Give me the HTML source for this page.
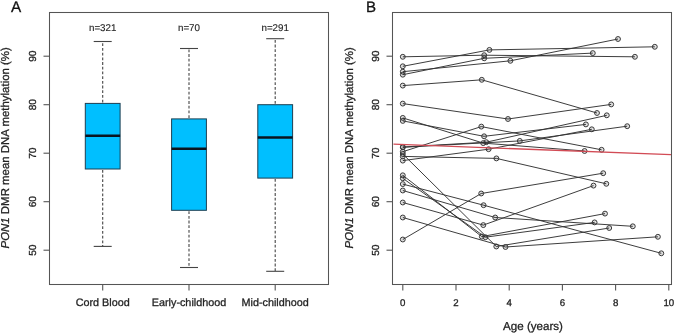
<!DOCTYPE html>
<html><head><meta charset="utf-8"><style>html,body{margin:0;padding:0;background:#fff;}body{width:675px;height:333px;overflow:hidden;position:relative;font-family:"Liberation Sans", sans-serif;}</style></head><body>
<svg width="675" height="333" viewBox="0 0 675 333" style="position:absolute;left:0;top:0;will-change:transform" font-family='"Liberation Sans", sans-serif'>
<style>text{stroke:#222;stroke-width:0.28px;paint-order:stroke;text-rendering:geometricPrecision;}</style>
<rect x="0" y="0" width="675" height="333" fill="#fff"/>
<text x="11.1" y="11.8" font-size="15.3" fill="#111">A</text>
<text x="366.0" y="11.6" font-size="15.1" fill="#111">B</text>
<rect x="49.5" y="12.5" width="279" height="272" fill="none" stroke="#555" stroke-width="1.05"/>
<line x1="43.5" y1="250.20" x2="49.5" y2="250.20" stroke="#555" stroke-width="1.1"/>
<text transform="translate(36.2 250.20) rotate(-90)" text-anchor="middle" font-size="10.2" fill="#222">50</text>
<line x1="43.5" y1="201.70" x2="49.5" y2="201.70" stroke="#555" stroke-width="1.1"/>
<text transform="translate(36.2 201.70) rotate(-90)" text-anchor="middle" font-size="10.2" fill="#222">60</text>
<line x1="43.5" y1="153.20" x2="49.5" y2="153.20" stroke="#555" stroke-width="1.1"/>
<text transform="translate(36.2 153.20) rotate(-90)" text-anchor="middle" font-size="10.2" fill="#222">70</text>
<line x1="43.5" y1="104.70" x2="49.5" y2="104.70" stroke="#555" stroke-width="1.1"/>
<text transform="translate(36.2 104.70) rotate(-90)" text-anchor="middle" font-size="10.2" fill="#222">80</text>
<line x1="43.5" y1="56.20" x2="49.5" y2="56.20" stroke="#555" stroke-width="1.1"/>
<text transform="translate(36.2 56.20) rotate(-90)" text-anchor="middle" font-size="10.2" fill="#222">90</text>
<line x1="102.70" y1="102.50" x2="102.70" y2="41.50" stroke="#444" stroke-width="1.1" stroke-dasharray="2.8 1.9"/>
<line x1="102.70" y1="169.90" x2="102.70" y2="246.40" stroke="#444" stroke-width="1.1" stroke-dasharray="2.8 1.9"/>
<line x1="93.70" y1="41.50" x2="111.70" y2="41.50" stroke="#444" stroke-width="1.1"/>
<line x1="93.70" y1="246.40" x2="111.70" y2="246.40" stroke="#444" stroke-width="1.1"/>
<rect x="85.30" y="103.40" width="34.80" height="65.60" fill="#00bfff" stroke="#1d3f52" stroke-width="1.0"/>
<line x1="85.30" y1="135.80" x2="120.10" y2="135.80" stroke="#0a1420" stroke-width="2.6"/>
<line x1="102.70" y1="284.5" x2="102.70" y2="290.5" stroke="#555" stroke-width="1.1"/>
<text x="102.70" y="305.6" text-anchor="middle" font-size="10.8" fill="#222">Cord Blood</text>
<text x="102.70" y="30.9" text-anchor="middle" font-size="9.8" fill="#222" style="stroke-width:0.12px">n=321</text>
<line x1="189.00" y1="118.00" x2="189.00" y2="48.50" stroke="#444" stroke-width="1.1" stroke-dasharray="2.8 1.9"/>
<line x1="189.00" y1="211.20" x2="189.00" y2="267.50" stroke="#444" stroke-width="1.1" stroke-dasharray="2.8 1.9"/>
<line x1="180.00" y1="48.50" x2="198.00" y2="48.50" stroke="#444" stroke-width="1.1"/>
<line x1="180.00" y1="267.50" x2="198.00" y2="267.50" stroke="#444" stroke-width="1.1"/>
<rect x="171.60" y="118.90" width="34.80" height="91.40" fill="#00bfff" stroke="#1d3f52" stroke-width="1.0"/>
<line x1="171.60" y1="148.70" x2="206.40" y2="148.70" stroke="#0a1420" stroke-width="2.6"/>
<line x1="189.00" y1="284.5" x2="189.00" y2="290.5" stroke="#555" stroke-width="1.1"/>
<text x="189.00" y="305.6" text-anchor="middle" font-size="10.8" fill="#222">Early-childhood</text>
<text x="189.00" y="30.9" text-anchor="middle" font-size="9.8" fill="#222" style="stroke-width:0.12px">n=70</text>
<line x1="275.20" y1="103.80" x2="275.20" y2="38.70" stroke="#444" stroke-width="1.1" stroke-dasharray="2.8 1.9"/>
<line x1="275.20" y1="179.00" x2="275.20" y2="271.30" stroke="#444" stroke-width="1.1" stroke-dasharray="2.8 1.9"/>
<line x1="266.20" y1="38.70" x2="284.20" y2="38.70" stroke="#444" stroke-width="1.1"/>
<line x1="266.20" y1="271.30" x2="284.20" y2="271.30" stroke="#444" stroke-width="1.1"/>
<rect x="257.80" y="104.70" width="34.80" height="73.40" fill="#00bfff" stroke="#1d3f52" stroke-width="1.0"/>
<line x1="257.80" y1="137.50" x2="292.60" y2="137.50" stroke="#0a1420" stroke-width="2.6"/>
<line x1="275.20" y1="284.5" x2="275.20" y2="290.5" stroke="#555" stroke-width="1.1"/>
<text x="275.20" y="305.6" text-anchor="middle" font-size="10.8" fill="#222">Mid-childhood</text>
<text x="275.20" y="30.9" text-anchor="middle" font-size="9.8" fill="#222" style="stroke-width:0.12px">n=291</text>
<text transform="translate(9.4 147.8) rotate(-90)" text-anchor="middle" font-size="11.43" fill="#222"><tspan font-style="italic">PON1</tspan> DMR mean DNA methylation (%)</text>
<rect x="392.5" y="12.5" width="279" height="272" fill="none" stroke="#555" stroke-width="1.05"/>
<line x1="386.5" y1="250.20" x2="392.5" y2="250.20" stroke="#555" stroke-width="1.1"/>
<text transform="translate(379.3 250.20) rotate(-90)" text-anchor="middle" font-size="10.2" fill="#222">50</text>
<line x1="386.5" y1="201.70" x2="392.5" y2="201.70" stroke="#555" stroke-width="1.1"/>
<text transform="translate(379.3 201.70) rotate(-90)" text-anchor="middle" font-size="10.2" fill="#222">60</text>
<line x1="386.5" y1="153.20" x2="392.5" y2="153.20" stroke="#555" stroke-width="1.1"/>
<text transform="translate(379.3 153.20) rotate(-90)" text-anchor="middle" font-size="10.2" fill="#222">70</text>
<line x1="386.5" y1="104.70" x2="392.5" y2="104.70" stroke="#555" stroke-width="1.1"/>
<text transform="translate(379.3 104.70) rotate(-90)" text-anchor="middle" font-size="10.2" fill="#222">80</text>
<line x1="386.5" y1="56.20" x2="392.5" y2="56.20" stroke="#555" stroke-width="1.1"/>
<text transform="translate(379.3 56.20) rotate(-90)" text-anchor="middle" font-size="10.2" fill="#222">90</text>
<line x1="402.80" y1="284.5" x2="402.80" y2="290.5" stroke="#555" stroke-width="1.1"/>
<text x="402.80" y="305.8" text-anchor="middle" font-size="9.7" fill="#222">0</text>
<line x1="456.00" y1="284.5" x2="456.00" y2="290.5" stroke="#555" stroke-width="1.1"/>
<text x="456.00" y="305.8" text-anchor="middle" font-size="9.7" fill="#222">2</text>
<line x1="509.20" y1="284.5" x2="509.20" y2="290.5" stroke="#555" stroke-width="1.1"/>
<text x="509.20" y="305.8" text-anchor="middle" font-size="9.7" fill="#222">4</text>
<line x1="562.40" y1="284.5" x2="562.40" y2="290.5" stroke="#555" stroke-width="1.1"/>
<text x="562.40" y="305.8" text-anchor="middle" font-size="9.7" fill="#222">6</text>
<line x1="615.60" y1="284.5" x2="615.60" y2="290.5" stroke="#555" stroke-width="1.1"/>
<text x="615.60" y="305.8" text-anchor="middle" font-size="9.7" fill="#222">8</text>
<line x1="668.80" y1="284.5" x2="668.80" y2="290.5" stroke="#555" stroke-width="1.1"/>
<text x="668.80" y="305.8" text-anchor="middle" font-size="9.7" fill="#222">10</text>
<text x="533.0" y="330.0" text-anchor="middle" font-size="11.6" fill="#222">Age (years)</text>
<text transform="translate(352.7 147.8) rotate(-90)" text-anchor="middle" font-size="11.43" fill="#222"><tspan font-style="italic">PON1</tspan> DMR mean DNA methylation (%)</text>
<polyline points="402.80,56.80 484.20,55.20 634.90,56.80" fill="none" stroke="#333" stroke-width="0.95"/>
<polyline points="402.80,66.30 489.40,49.90 654.80,46.80" fill="none" stroke="#333" stroke-width="0.95"/>
<polyline points="402.80,71.70 510.40,60.80 618.00,39.00" fill="none" stroke="#333" stroke-width="0.95"/>
<polyline points="402.80,74.70 484.20,58.30 592.80,53.10" fill="none" stroke="#333" stroke-width="0.95"/>
<polyline points="402.80,85.60 481.80,79.80 597.00,113.00" fill="none" stroke="#333" stroke-width="0.95"/>
<polyline points="402.80,103.60 508.00,119.00 611.20,104.40" fill="none" stroke="#333" stroke-width="0.95"/>
<polyline points="402.80,120.90 484.10,136.30 585.90,124.40" fill="none" stroke="#333" stroke-width="0.95"/>
<polyline points="402.80,117.90 483.20,143.10 584.60,151.00" fill="none" stroke="#333" stroke-width="0.95"/>
<polyline points="402.80,151.70 481.30,126.60 601.60,149.80" fill="none" stroke="#333" stroke-width="0.95"/>
<polyline points="402.80,147.30 519.80,140.90 627.20,126.20" fill="none" stroke="#333" stroke-width="0.95"/>
<polyline points="402.80,147.00 486.30,142.20 606.80,115.30" fill="none" stroke="#333" stroke-width="0.95"/>
<polyline points="402.80,156.40 496.40,158.40 606.30,183.80" fill="none" stroke="#333" stroke-width="0.95"/>
<polyline points="402.80,154.00 496.30,246.50 609.20,228.00" fill="none" stroke="#333" stroke-width="0.95"/>
<polyline points="402.80,160.60 488.60,149.20 591.80,129.30" fill="none" stroke="#333" stroke-width="0.95"/>
<polyline points="402.80,175.30 481.80,236.60 605.00,213.60" fill="none" stroke="#333" stroke-width="0.95"/>
<polyline points="402.80,178.30 485.40,237.20 594.60,222.40" fill="none" stroke="#333" stroke-width="0.95"/>
<polyline points="402.80,184.10 483.60,205.20 661.30,253.30" fill="none" stroke="#333" stroke-width="0.95"/>
<polyline points="402.80,190.50 495.20,217.50 632.80,226.30" fill="none" stroke="#333" stroke-width="0.95"/>
<polyline points="402.80,202.50 483.30,225.10 593.50,185.60" fill="none" stroke="#333" stroke-width="0.95"/>
<polyline points="402.80,217.50 505.50,247.00 657.90,236.80" fill="none" stroke="#333" stroke-width="0.95"/>
<polyline points="402.80,239.50 481.20,193.50 603.20,173.20" fill="none" stroke="#333" stroke-width="0.95"/>
<circle cx="402.80" cy="56.80" r="2.45" fill="rgba(0,0,0,0.12)" stroke="#3a3a3a" stroke-width="1.0"/>
<circle cx="484.20" cy="55.20" r="2.45" fill="rgba(0,0,0,0.12)" stroke="#3a3a3a" stroke-width="1.0"/>
<circle cx="634.90" cy="56.80" r="2.45" fill="rgba(0,0,0,0.12)" stroke="#3a3a3a" stroke-width="1.0"/>
<circle cx="402.80" cy="66.30" r="2.45" fill="rgba(0,0,0,0.12)" stroke="#3a3a3a" stroke-width="1.0"/>
<circle cx="489.40" cy="49.90" r="2.45" fill="rgba(0,0,0,0.12)" stroke="#3a3a3a" stroke-width="1.0"/>
<circle cx="654.80" cy="46.80" r="2.45" fill="rgba(0,0,0,0.12)" stroke="#3a3a3a" stroke-width="1.0"/>
<circle cx="402.80" cy="71.70" r="2.45" fill="rgba(0,0,0,0.12)" stroke="#3a3a3a" stroke-width="1.0"/>
<circle cx="510.40" cy="60.80" r="2.45" fill="rgba(0,0,0,0.12)" stroke="#3a3a3a" stroke-width="1.0"/>
<circle cx="618.00" cy="39.00" r="2.45" fill="rgba(0,0,0,0.12)" stroke="#3a3a3a" stroke-width="1.0"/>
<circle cx="402.80" cy="74.70" r="2.45" fill="rgba(0,0,0,0.12)" stroke="#3a3a3a" stroke-width="1.0"/>
<circle cx="484.20" cy="58.30" r="2.45" fill="rgba(0,0,0,0.12)" stroke="#3a3a3a" stroke-width="1.0"/>
<circle cx="592.80" cy="53.10" r="2.45" fill="rgba(0,0,0,0.12)" stroke="#3a3a3a" stroke-width="1.0"/>
<circle cx="402.80" cy="85.60" r="2.45" fill="rgba(0,0,0,0.12)" stroke="#3a3a3a" stroke-width="1.0"/>
<circle cx="481.80" cy="79.80" r="2.45" fill="rgba(0,0,0,0.12)" stroke="#3a3a3a" stroke-width="1.0"/>
<circle cx="597.00" cy="113.00" r="2.45" fill="rgba(0,0,0,0.12)" stroke="#3a3a3a" stroke-width="1.0"/>
<circle cx="402.80" cy="103.60" r="2.45" fill="rgba(0,0,0,0.12)" stroke="#3a3a3a" stroke-width="1.0"/>
<circle cx="508.00" cy="119.00" r="2.45" fill="rgba(0,0,0,0.12)" stroke="#3a3a3a" stroke-width="1.0"/>
<circle cx="611.20" cy="104.40" r="2.45" fill="rgba(0,0,0,0.12)" stroke="#3a3a3a" stroke-width="1.0"/>
<circle cx="402.80" cy="120.90" r="2.45" fill="rgba(0,0,0,0.12)" stroke="#3a3a3a" stroke-width="1.0"/>
<circle cx="484.10" cy="136.30" r="2.45" fill="rgba(0,0,0,0.12)" stroke="#3a3a3a" stroke-width="1.0"/>
<circle cx="585.90" cy="124.40" r="2.45" fill="rgba(0,0,0,0.12)" stroke="#3a3a3a" stroke-width="1.0"/>
<circle cx="402.80" cy="117.90" r="2.45" fill="rgba(0,0,0,0.12)" stroke="#3a3a3a" stroke-width="1.0"/>
<circle cx="483.20" cy="143.10" r="2.45" fill="rgba(0,0,0,0.12)" stroke="#3a3a3a" stroke-width="1.0"/>
<circle cx="584.60" cy="151.00" r="2.45" fill="rgba(0,0,0,0.12)" stroke="#3a3a3a" stroke-width="1.0"/>
<circle cx="402.80" cy="151.70" r="2.45" fill="rgba(0,0,0,0.12)" stroke="#3a3a3a" stroke-width="1.0"/>
<circle cx="481.30" cy="126.60" r="2.45" fill="rgba(0,0,0,0.12)" stroke="#3a3a3a" stroke-width="1.0"/>
<circle cx="601.60" cy="149.80" r="2.45" fill="rgba(0,0,0,0.12)" stroke="#3a3a3a" stroke-width="1.0"/>
<circle cx="402.80" cy="147.30" r="2.45" fill="rgba(0,0,0,0.12)" stroke="#3a3a3a" stroke-width="1.0"/>
<circle cx="519.80" cy="140.90" r="2.45" fill="rgba(0,0,0,0.12)" stroke="#3a3a3a" stroke-width="1.0"/>
<circle cx="627.20" cy="126.20" r="2.45" fill="rgba(0,0,0,0.12)" stroke="#3a3a3a" stroke-width="1.0"/>
<circle cx="402.80" cy="147.00" r="2.45" fill="rgba(0,0,0,0.12)" stroke="#3a3a3a" stroke-width="1.0"/>
<circle cx="486.30" cy="142.20" r="2.45" fill="rgba(0,0,0,0.12)" stroke="#3a3a3a" stroke-width="1.0"/>
<circle cx="606.80" cy="115.30" r="2.45" fill="rgba(0,0,0,0.12)" stroke="#3a3a3a" stroke-width="1.0"/>
<circle cx="402.80" cy="156.40" r="2.45" fill="rgba(0,0,0,0.12)" stroke="#3a3a3a" stroke-width="1.0"/>
<circle cx="496.40" cy="158.40" r="2.45" fill="rgba(0,0,0,0.12)" stroke="#3a3a3a" stroke-width="1.0"/>
<circle cx="606.30" cy="183.80" r="2.45" fill="rgba(0,0,0,0.12)" stroke="#3a3a3a" stroke-width="1.0"/>
<circle cx="402.80" cy="154.00" r="2.45" fill="rgba(0,0,0,0.12)" stroke="#3a3a3a" stroke-width="1.0"/>
<circle cx="496.30" cy="246.50" r="2.45" fill="rgba(0,0,0,0.12)" stroke="#3a3a3a" stroke-width="1.0"/>
<circle cx="609.20" cy="228.00" r="2.45" fill="rgba(0,0,0,0.12)" stroke="#3a3a3a" stroke-width="1.0"/>
<circle cx="402.80" cy="160.60" r="2.45" fill="rgba(0,0,0,0.12)" stroke="#3a3a3a" stroke-width="1.0"/>
<circle cx="488.60" cy="149.20" r="2.45" fill="rgba(0,0,0,0.12)" stroke="#3a3a3a" stroke-width="1.0"/>
<circle cx="591.80" cy="129.30" r="2.45" fill="rgba(0,0,0,0.12)" stroke="#3a3a3a" stroke-width="1.0"/>
<circle cx="402.80" cy="175.30" r="2.45" fill="rgba(0,0,0,0.12)" stroke="#3a3a3a" stroke-width="1.0"/>
<circle cx="481.80" cy="236.60" r="2.45" fill="rgba(0,0,0,0.12)" stroke="#3a3a3a" stroke-width="1.0"/>
<circle cx="605.00" cy="213.60" r="2.45" fill="rgba(0,0,0,0.12)" stroke="#3a3a3a" stroke-width="1.0"/>
<circle cx="402.80" cy="178.30" r="2.45" fill="rgba(0,0,0,0.12)" stroke="#3a3a3a" stroke-width="1.0"/>
<circle cx="485.40" cy="237.20" r="2.45" fill="rgba(0,0,0,0.12)" stroke="#3a3a3a" stroke-width="1.0"/>
<circle cx="594.60" cy="222.40" r="2.45" fill="rgba(0,0,0,0.12)" stroke="#3a3a3a" stroke-width="1.0"/>
<circle cx="402.80" cy="184.10" r="2.45" fill="rgba(0,0,0,0.12)" stroke="#3a3a3a" stroke-width="1.0"/>
<circle cx="483.60" cy="205.20" r="2.45" fill="rgba(0,0,0,0.12)" stroke="#3a3a3a" stroke-width="1.0"/>
<circle cx="661.30" cy="253.30" r="2.45" fill="rgba(0,0,0,0.12)" stroke="#3a3a3a" stroke-width="1.0"/>
<circle cx="402.80" cy="190.50" r="2.45" fill="rgba(0,0,0,0.12)" stroke="#3a3a3a" stroke-width="1.0"/>
<circle cx="495.20" cy="217.50" r="2.45" fill="rgba(0,0,0,0.12)" stroke="#3a3a3a" stroke-width="1.0"/>
<circle cx="632.80" cy="226.30" r="2.45" fill="rgba(0,0,0,0.12)" stroke="#3a3a3a" stroke-width="1.0"/>
<circle cx="402.80" cy="202.50" r="2.45" fill="rgba(0,0,0,0.12)" stroke="#3a3a3a" stroke-width="1.0"/>
<circle cx="483.30" cy="225.10" r="2.45" fill="rgba(0,0,0,0.12)" stroke="#3a3a3a" stroke-width="1.0"/>
<circle cx="593.50" cy="185.60" r="2.45" fill="rgba(0,0,0,0.12)" stroke="#3a3a3a" stroke-width="1.0"/>
<circle cx="402.80" cy="217.50" r="2.45" fill="rgba(0,0,0,0.12)" stroke="#3a3a3a" stroke-width="1.0"/>
<circle cx="505.50" cy="247.00" r="2.45" fill="rgba(0,0,0,0.12)" stroke="#3a3a3a" stroke-width="1.0"/>
<circle cx="657.90" cy="236.80" r="2.45" fill="rgba(0,0,0,0.12)" stroke="#3a3a3a" stroke-width="1.0"/>
<circle cx="402.80" cy="239.50" r="2.45" fill="rgba(0,0,0,0.12)" stroke="#3a3a3a" stroke-width="1.0"/>
<circle cx="481.20" cy="193.50" r="2.45" fill="rgba(0,0,0,0.12)" stroke="#3a3a3a" stroke-width="1.0"/>
<circle cx="603.20" cy="173.20" r="2.45" fill="rgba(0,0,0,0.12)" stroke="#3a3a3a" stroke-width="1.0"/>
<line x1="393.5" y1="144.2" x2="671" y2="154.6" stroke="#d24b55" stroke-width="1.3"/>
</svg>
</body></html>
